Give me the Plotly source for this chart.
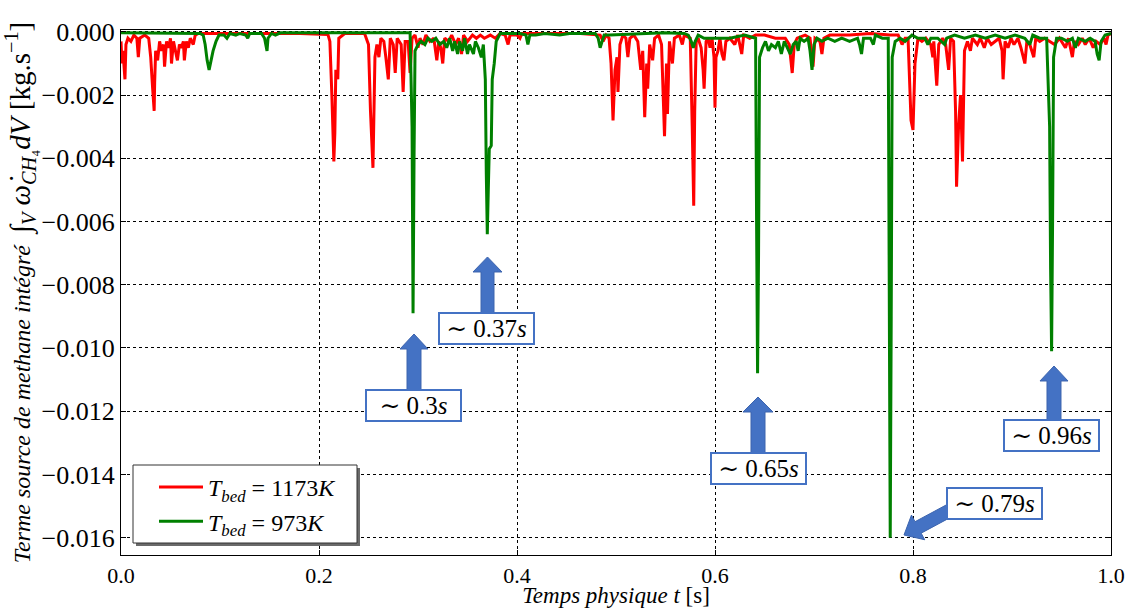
import numpy as np
import plotly.graph_objects as go

# ---- data ----
red_t = [0.000, 0.001, 0.002, 0.003, 0.004, 0.005, 0.007, 0.010, 0.013, 0.016, 0.0175, 0.019, 0.024, 0.028,
         0.030, 0.032, 0.0335, 0.034, 0.035, 0.037, 0.039, 0.041, 0.043, 0.044, 0.046, 0.048, 0.050, 0.051,
         0.053, 0.055, 0.057, 0.059, 0.061, 0.063, 0.064, 0.066, 0.068, 0.070, 0.073, 0.075, 0.078,
         0.130, 0.181, 0.209, 0.211, 0.213, 0.215, 0.216, 0.217, 0.219, 0.220, 0.226, 0.246,
         0.250, 0.252, 0.2545, 0.2555, 0.2565, 0.2585, 0.2605, 0.2625, 0.2655, 0.2675, 0.270, 0.272, 0.275,
         0.277, 0.279, 0.283, 0.285, 0.287, 0.290, 0.292, 0.294,
         0.297, 0.300, 0.302, 0.305, 0.308, 0.312, 0.316, 0.319, 0.321, 0.323, 0.325, 0.327, 0.331, 0.334,
         0.338, 0.341, 0.344, 0.346, 0.350, 0.355, 0.359, 0.363, 0.367, 0.373, 0.378, 0.383,
         0.388, 0.391, 0.393, 0.400, 0.403, 0.405, 0.423, 0.443, 0.464, 0.484, 0.487, 0.490, 0.493, 0.495,
         0.497, 0.499, 0.501, 0.502, 0.504, 0.507, 0.510, 0.512, 0.514, 0.518, 0.522, 0.525, 0.527, 0.529,
         0.531, 0.532, 0.534, 0.537, 0.539, 0.543, 0.546, 0.549, 0.551, 0.552, 0.554, 0.557, 0.559, 0.564,
         0.567, 0.569, 0.575, 0.577, 0.5785, 0.5795, 0.581, 0.583, 0.586, 0.588, 0.589, 0.591, 0.593, 0.595,
         0.597, 0.599, 0.600, 0.601, 0.603, 0.605, 0.607, 0.609, 0.611, 0.615, 0.620, 0.623, 0.627, 0.629,
         0.635, 0.641, 0.650, 0.661, 0.671, 0.675, 0.677, 0.678, 0.680, 0.683, 0.691, 0.696, 0.699, 0.701,
         0.706, 0.708, 0.710, 0.716, 0.736, 0.757, 0.777, 0.785, 0.789, 0.792, 0.795, 0.797, 0.798, 0.800,
         0.802, 0.805, 0.809, 0.813, 0.818, 0.820, 0.821, 0.824, 0.826, 0.830, 0.833, 0.836, 0.838, 0.841,
         0.843, 0.844, 0.846, 0.848, 0.850, 0.852, 0.855, 0.858, 0.860, 0.865, 0.868, 0.872, 0.875, 0.879,
         0.883, 0.887, 0.890, 0.891, 0.893, 0.896, 0.899, 0.902, 0.906, 0.909, 0.913, 0.915, 0.918, 0.922,
         0.924, 0.928, 0.933, 0.938, 0.943, 0.948, 0.954, 0.957, 0.961, 0.963, 0.967, 0.971, 0.974, 0.978,
         0.982, 0.985, 0.989, 0.993, 0.995, 0.997, 1.000]
red_v = [-0.0003, -0.0010, -0.0006, -0.0013, -0.0015, -0.0004, -0.0002, -0.0003, -0.0001, -0.0002, -0.0008,
         -0.0002, -0.0001, -0.0002,
         -0.0008, -0.0018, -0.0025, -0.0016, -0.0006, -0.0009, -0.0003, -0.0006, -0.0004, -0.0011, -0.0003,
         -0.0005, -0.0002, -0.0010,
         -0.0003, -0.0006, -0.0009, -0.0004, -0.0005, -0.0003, -0.0009, -0.0003, -0.0005, -0.0002, -0.0004,
         -0.0001, -0.00005,
         -0.00005, -0.00005, -0.00008, -0.0003, -0.0020, -0.0041, -0.0032, -0.0012, -0.0015, -0.0002,
         -0.00005, -0.00005,
         -0.0004, -0.0025, -0.0043, -0.0030, -0.0008, -0.0004, -0.0008, -0.0002, -0.0003, -0.0008, -0.0015,
         -0.0002, -0.0004,
         -0.0013, -0.0002, -0.0004, -0.0019, -0.0003, -0.0003, -0.0013, -0.0002,
         -0.0001, -0.0005, -0.0002, -0.0004, -0.0001, -0.0003, -0.0002, -0.0009, -0.0003, -0.0005, -0.0010,
         -0.0002, -0.0003, -0.0001,
         -0.0004, -0.0002, -0.0007, -0.0001, -0.0003, -0.0001, -0.0002, -0.0001, -0.0002, -0.0001, -0.0002,
         -0.00005,
         -0.0001, -0.0004, -0.0001, -0.0001, -0.0002, -0.00005, -0.00005, -0.00005, -0.00005, -0.0001,
         -0.0003, -0.0001, -0.0002, -0.0010,
         -0.0028, -0.0012, -0.0008, -0.0019, -0.0004, -0.0001, -0.0002, -0.0008, -0.0002, -0.0001, -0.0003,
         -0.0012, -0.0006, -0.0027,
         -0.0010, -0.0018, -0.0004, -0.0009, -0.0002, -0.0001, -0.0004, -0.0033, -0.0010, -0.0026, -0.0003,
         -0.0010, -0.0002, -0.0001,
         -0.0004, -0.0001, -0.0002, -0.0030, -0.0055, -0.0025, -0.0003, -0.0002, -0.0005, -0.0012, -0.0018,
         -0.0003, -0.0002, -0.0005,
         -0.0002, -0.0008, -0.0024, -0.0008, -0.0006, -0.0002, -0.0007, -0.0009, -0.0003, -0.0002, -0.0004,
         -0.0001, -0.0007, -0.0001,
         -0.0002, -0.0001, -0.0001, -0.0002, -0.0002, -0.0004, -0.0010, -0.0013, -0.0004, -0.0002, -0.0001,
         -0.0002, -0.0011, -0.0002,
         -0.0003, -0.0007, -0.0002, -0.0001, -0.0001, -0.00005, -0.0001, -0.0001, -0.0004, -0.0002, -0.0002,
         -0.0020, -0.0028, -0.0031,
         -0.0010, -0.0002, -0.0003, -0.0002, -0.0004, -0.0008, -0.0003, -0.0017, -0.0004, -0.0002, -0.0004,
         -0.0012, -0.0002, -0.0003,
         -0.0025, -0.0049, -0.0030, -0.0020, -0.0041, -0.0006, -0.0003, -0.0006, -0.0002, -0.0004, -0.0002,
         -0.0005, -0.0002, -0.0004,
         -0.0003, -0.0002, -0.0006, -0.0015, -0.0003, -0.0005, -0.0002, -0.0004, -0.0002, -0.0005, -0.0010,
         -0.0003, -0.0004, -0.0008,
         -0.0002, -0.0003, -0.0002, -0.0003, -0.0004, -0.0002, -0.0005, -0.0002, -0.0008, -0.0003, -0.0004,
         -0.0002, -0.0004, -0.0002,
         -0.0005, -0.0003, -0.0004, -0.0002, -0.0004, -0.0001, -0.00005]

green_t = [0.000, 0.040, 0.080, 0.083, 0.085, 0.087, 0.089, 0.091, 0.093, 0.096, 0.099, 0.104, 0.107, 0.110,
           0.116, 0.120, 0.126, 0.128, 0.130, 0.142, 0.145, 0.1475, 0.1485, 0.152, 0.156, 0.161, 0.231, 0.292,
           0.294, 0.295, 0.296, 0.297, 0.300, 0.303, 0.307, 0.310, 0.314, 0.318, 0.322, 0.326, 0.329, 0.332,
           0.335, 0.337, 0.340, 0.342, 0.345, 0.347, 0.350, 0.352, 0.356, 0.358, 0.361, 0.364, 0.366, 0.368,
           0.369, 0.370, 0.371, 0.372, 0.374, 0.375, 0.377, 0.379, 0.383, 0.403, 0.409, 0.411, 0.413, 0.419,
           0.428, 0.443, 0.453, 0.479, 0.482, 0.484, 0.486, 0.488, 0.494, 0.524, 0.549, 0.569, 0.573, 0.576,
           0.578, 0.580, 0.583, 0.589, 0.600, 0.615, 0.630, 0.641, 0.642, 0.643, 0.644, 0.645, 0.648, 0.651,
           0.654, 0.657, 0.661, 0.664, 0.667, 0.670, 0.673, 0.676, 0.679, 0.682, 0.684, 0.686, 0.690, 0.694,
           0.696, 0.698, 0.700, 0.703, 0.708, 0.714, 0.721, 0.728, 0.736, 0.744, 0.746, 0.748, 0.750, 0.757,
           0.760, 0.762, 0.769, 0.775, 0.776, 0.777, 0.778, 0.779, 0.782, 0.787, 0.792, 0.799, 0.805, 0.812,
           0.815, 0.818, 0.825, 0.832, 0.834, 0.842, 0.852, 0.863, 0.873, 0.883, 0.893, 0.903, 0.913, 0.918,
           0.921, 0.928, 0.935, 0.938, 0.939, 0.940, 0.941, 0.942, 0.945, 0.950, 0.956, 0.961, 0.964, 0.967,
           0.974, 0.979, 0.984, 0.986, 0.988, 0.990, 0.994, 1.000]
green_v = [-0.00003, -0.00003, -0.00005, -0.0001, -0.0004, -0.0009, -0.0012, -0.0009, -0.0006, -0.0003,
           -0.0001, -0.0001, -0.0002, -0.00005,
           -0.0001, -0.00005, -0.0001, -0.0002, -0.00005, -0.00005, -0.0002, -0.0006, -0.0002, -0.00005,
           -0.0001, -0.00003, -0.00003, -0.00003,
           -0.0030, -0.0089, -0.0040, -0.0006, -0.0004, -0.0003, -0.0004, -0.0002, -0.0003, -0.0002, -0.0004,
           -0.0003, -0.0005, -0.0002,
           -0.0006, -0.0003, -0.0007, -0.0003, -0.0006, -0.0002, -0.0007, -0.0004, -0.0007, -0.0003, -0.0005,
           -0.0008, -0.0004, -0.0015,
           -0.0045, -0.0064, -0.0050, -0.0037, -0.0036, -0.0015, -0.0010, -0.0003, -0.00005, -0.00005,
           -0.0001, -0.0004, -0.0001, -0.0001,
           -0.00005, -0.0001, -0.00005, -0.00005, -0.0002, -0.0005, -0.0003, -0.0001, -0.0001, -0.00005,
           -0.00003, -0.00005, -0.0001, -0.0003,
           -0.0005, -0.0003, -0.0001, -0.0002, -0.0002, -0.0002, -0.0001, -0.0002, -0.0060, -0.0108, -0.0070,
           -0.0008, -0.0005, -0.0003,
           -0.0006, -0.0004, -0.0005, -0.0003, -0.0007, -0.0003, -0.0005, -0.0007, -0.0004, -0.0003, -0.0006,
           -0.0002, -0.0003, -0.0002,
           -0.0006, -0.0012, -0.0004, -0.0002, -0.0003, -0.0002, -0.0003, -0.0002, -0.0003, -0.0002, -0.0004,
           -0.0007, -0.0002, -0.0002,
           -0.0004, -0.0001, -0.0002, -0.0002, -0.0080, -0.0160, -0.0090, -0.0008, -0.0003, -0.0002, -0.0003,
           -0.0001, -0.0002, -0.0002,
           -0.0004, -0.0002, -0.0002, -0.0004, -0.0002, -0.0001, -0.0002, -0.0001, -0.0002, -0.0001, -0.0002,
           -0.0001, -0.0002, -0.0004,
           -0.0001, -0.0002, -0.0002, -0.0030, -0.0075, -0.0101, -0.0060, -0.0008, -0.0002, -0.0002, -0.0003,
           -0.0002, -0.0005, -0.0002,
           -0.0003, -0.0002, -0.0003, -0.0007, -0.0009, -0.0003, -0.0001, -0.00005]

series_names = ["<i>T</i><sub><i>bed</i></sub> = 1173<i>K</i>", "<i>T</i><sub><i>bed</i></sub> = 973<i>K</i>"]
y_ticks = [-0.016, -0.014, -0.012, -0.010, -0.008, -0.006, -0.004, -0.002, 0.000]
x_ticks = [0.0, 0.2, 0.4, 0.6, 0.8, 1.0]
note_texts = ["∼ 0.3<i>s</i>", "∼ 0.37<i>s</i>", "∼ 0.65<i>s</i>", "∼ 0.96<i>s</i>", "∼ 0.79<i>s</i>"]

# ---- layout geometry (pixels) ----
W, H = 1131, 608
L, R, T, B = 121, 1111, 30, 555
FONT = '"Liberation Serif", "DejaVu Serif", "Times New Roman", serif'
BLUE = "#4472C4"


def px2paper(x, y):
    return (x - L) / (R - L), (B - y) / (B - T)


def poly_path(pts):
    s = ""
    for i, (x, y) in enumerate(pts):
        xp, yp = px2paper(x, y)
        s += ("M" if i == 0 else "L") + f"{xp:.5f},{yp:.5f} "
    return s + "Z"


def up_arrow(cx, ty, hw, hb, sw, yb):
    return [(cx, ty), (cx + hw, hb), (cx + sw, hb), (cx + sw, yb), (cx - sw, yb), (cx - sw, hb), (cx - hw, hb)]


def dir_arrow(tip, tail, hl, hw, sw):
    tip = np.array(tip, float)
    tail = np.array(tail, float)
    u = (tail - tip) / np.linalg.norm(tail - tip)
    n = np.array([-u[1], u[0]])
    hb = tip + u * hl
    pts = [tip, hb + n * hw, hb + n * sw, tail + n * sw, tail - n * sw, hb - n * sw, hb - n * hw]
    return [tuple(p) for p in pts]


def rect(x0p, y0p, x1p, y1p, **kw):
    a, b = px2paper(x0p, y1p)
    c, d = px2paper(x1p, y0p)
    return dict(type="rect", xref="paper", yref="paper", x0=a, y0=b, x1=c, y1=d, layer="above", **kw)


fig = go.Figure()
fig.add_trace(go.Scatter(x=red_t, y=red_v, mode="lines", name=series_names[0],
                         line=dict(color="#ff0000", width=3)))
fig.add_trace(go.Scatter(x=green_t, y=green_v, mode="lines", name=series_names[1],
                         line=dict(color="#008000", width=3)))

shapes = []
arrows = [
    up_arrow(414, 334, 14, 349, 7, 392),
    up_arrow(487.5, 257, 14.5, 272, 6.5, 314),
    up_arrow(758, 397, 15, 412, 7, 454),
    up_arrow(1054, 366, 14, 381, 7, 421),
    dir_arrow((904, 535), (958, 506), 16, 14, 6.5),
]
for a in arrows:
    shapes.append(dict(type="path", path=poly_path(a), xref="paper", yref="paper",
                       fillcolor=BLUE, line=dict(color="#3c64ae", width=1), layer="above"))

# legend frame with drop shadow
shapes.append(rect(136, 468, 360, 546, fillcolor="#6a6a6a", line=dict(width=0)))
shapes.append(rect(133, 465, 357, 543, fillcolor="white", line=dict(color="#333333", width=1)))

annotations = []
centers = [(413, 405.5), (486.5, 328), (758.5, 468), (1051.5, 435.5), (994, 503.5)]
for txt, (cx, cy) in zip(note_texts, centers):
    xp, yp = px2paper(cx, cy)
    annotations.append(dict(text=txt, x=xp, y=yp, xref="paper", yref="paper", showarrow=False,
                            xanchor="center", yanchor="middle", width=91, height=27,
                            bgcolor="white", bordercolor=BLUE, borderwidth=2, borderpad=1,
                            font=dict(family=FONT, size=25, color="black")))

fig.update_layout(
    width=W, height=H,
    margin=dict(l=L, r=W - R, t=T, b=H - B, pad=0),
    paper_bgcolor="white", plot_bgcolor="white",
    font=dict(family=FONT, size=22, color="black"),
    showlegend=True,
    legend=dict(x=px2paper(154, 0)[0], y=px2paper(0, 465)[1], xanchor="left", yanchor="top",
                bgcolor="rgba(0,0,0,0)", borderwidth=0,
                font=dict(family=FONT, size=24), itemwidth=44, tracegroupgap=2),
    shapes=shapes,
    annotations=annotations,
)
fig.update_xaxes(range=[0, 1], tickvals=x_ticks, tickformat=".1f", ticks="inside", ticklen=5,
                 tickcolor="black", showline=True, linecolor="black", linewidth=1.2, mirror="ticks",
                 showgrid=True, gridcolor="black", griddash="dot", gridwidth=1, zeroline=False,
                 tickfont=dict(family=FONT, size=22), automargin=False,
                 title=dict(text="<i>Temps physique t</i> [s]", font=dict(family=FONT, size=23), standoff=0))
fig.update_yaxes(range=[-0.01655, 0.00006], tickvals=y_ticks, tickformat=".3f", ticks="inside", ticklen=5,
                 tickcolor="black", showline=True, linecolor="black", linewidth=1.2, mirror="ticks",
                 showgrid=True, gridcolor="black", griddash="dot", gridwidth=1, zeroline=False,
                 tickfont=dict(family=FONT, size=26), automargin=False,
                 title=dict(text="<i>Terme source de methane intégré</i>  "
                                 "<span style='font-size:29px'>∫<sub><i>V</i></sub> "
                                 "<i>ω̇</i><sub><i>CH</i>₄</sub><i>dV</i> [kg.s<sup>−1</sup>]</span>",
                            font=dict(family=FONT, size=24), standoff=6))

# remove the page's default body margin so the figure sits at the window origin
fig.write_html("out.html", config={"displayModeBar": False},
               post_script="document.body.style.margin='0';document.body.style.overflow='hidden';")
